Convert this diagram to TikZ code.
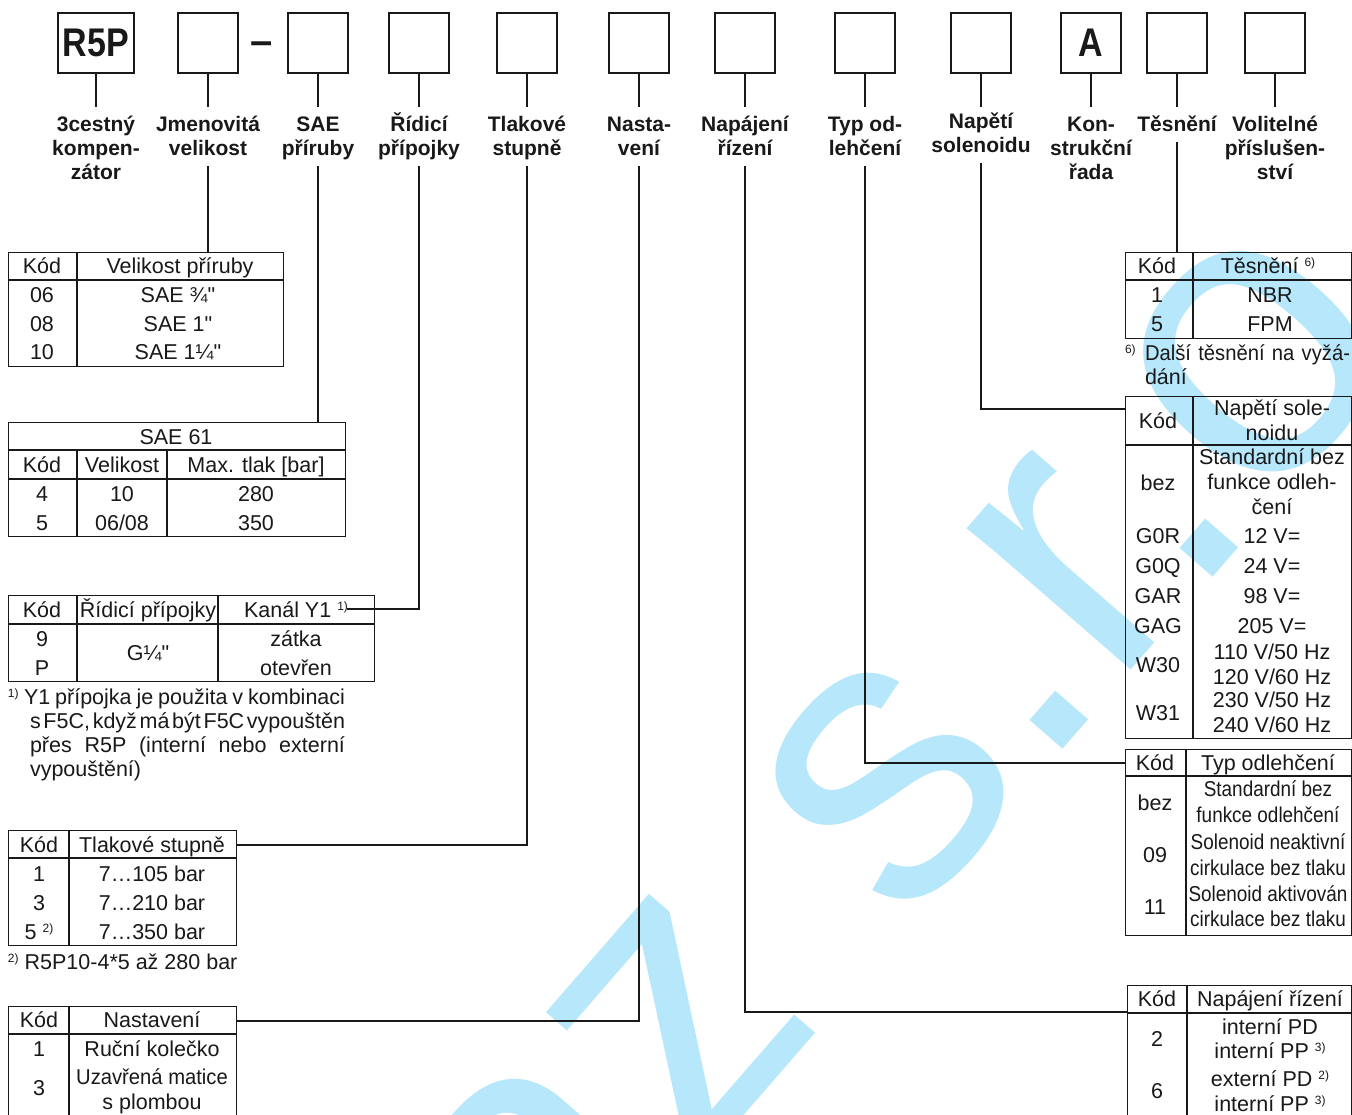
\documentclass[tikz,border=0pt]{standalone}
\usepackage{fontspec}
\setmainfont{Liberation Sans}[Ligatures=TeXOff]
\newfontfamily\condf{Liberation Sans}[FakeStretch=0.88]
\newfontfamily\condg{Liberation Sans}[FakeStretch=0.94]
\newfontfamily\condh{Liberation Sans}[FakeStretch=0.85]
\definecolor{wmark}{RGB}{182,231,251}
\definecolor{ink}{RGB}{25,25,25}
\newcounter{tc}
\newcommand\putt[4][]{\stepcounter{tc}\node[tx,#1] (tx\arabic{tc}) at (#2,#3) {#4};}
\newcommand\sups[1]{\raisebox{6.5pt}{\fontsize{12}{12}\selectfont #1}}
\newcommand\dq{"}
\begin{document}
\begin{tikzpicture}[x=1pt,y=-1pt,
 tx/.style={anchor=base,inner sep=0pt,outer sep=0pt,text=ink,font=\fontsize{21.5}{25}\selectfont},
 lb/.style={tx,font=\bfseries\fontsize{21}{24}\selectfont},
 cf/.style={font=\condf\fontsize{21.5}{25}\selectfont},
 tbl/.style={draw=ink,line width=1.4pt,inner sep=0pt,anchor=north west},
 gl/.style={draw=ink,line width=1.4pt},
 cn/.style={draw=ink,line width=1.2pt},
 cbox/.style={draw=ink,line width=1.4pt,inner sep=0pt,minimum width=60pt,minimum height=60pt,text=ink,font=\condh\bfseries\fontsize{40}{40}\selectfont},
]
\useasboundingbox (0,0) rectangle (1352,1114);
\fill[white] (0,0) rectangle (1352,1114);
\clip (0,0) rectangle (1352,1114);
% watermark
\node[rotate=49,anchor=base west,inner sep=0pt,text=wmark,font=\fontsize{410}{410}\selectfont] (wm) at (545,1345) {az s.r.o.};

% code boxes
\node[cbox,minimum width=76pt] (b1) at (96,43) {R5P};
\node[cbox] (b2) at (208,43) {};
\node[tx,font=\bfseries\fontsize{40}{40}\selectfont] (dash) at (262,54) {–};
\node[cbox] (b3) at (318,43) {};
\node[cbox] (b4) at (419,43) {};
\node[cbox] (b5) at (527,43) {};
\node[cbox] (b6) at (639,43) {};
\node[cbox] (b7) at (745,43) {};
\node[cbox] (b8) at (865,43) {};
\node[cbox] (b9) at (981,43) {};
\node[cbox] (b10) at (1091,43) {A};
\node[cbox] (b11) at (1177,43) {};
\node[cbox] (b12) at (1275,43) {};
\foreach \b in {b1,b2,b3,b4,b5,b6,b7,b8,b9,b10,b11,b12}{\draw[cn] (\b.south) -- ++(0,33);}

% labels
\putt[lb]{96}{131}{3cestný}\putt[lb]{96}{155}{kompen-}\putt[lb]{96}{179}{zátor}
\putt[lb]{208}{131}{Jmenovitá}\putt[lb]{208}{155}{velikost}
\putt[lb]{318}{131}{SAE}\putt[lb]{318}{155}{příruby}
\putt[lb]{419}{131}{Řídicí}\putt[lb]{419}{155}{přípojky}
\putt[lb]{527}{131}{Tlakové}\putt[lb]{527}{155}{stupně}
\putt[lb]{639}{131}{Nasta-}\putt[lb]{639}{155}{vení}
\putt[lb]{745}{131}{Napájení}\putt[lb]{745}{155}{řízení}
\putt[lb]{865}{131}{Typ od-}\putt[lb]{865}{155}{lehčení}
\putt[lb]{981}{128}{Napětí}\putt[lb]{981}{152}{solenoidu}
\putt[lb]{1091}{131}{Kon-}\putt[lb]{1091}{155}{strukční}\putt[lb]{1091}{179}{řada}
\putt[lb]{1177}{131}{Těsnění}
\putt[lb]{1275}{131}{Volitelné}\putt[lb]{1275}{155}{příslušen-}\putt[lb]{1275}{179}{ství}

% ---------- T1 Velikost příruby
\node[tbl,minimum width=275pt,minimum height=114pt] (T1) at (8,252) {};
\draw[gl] (8,280) -- (283,280) (77,252) -- (77,366);
\putt{42}{273}{Kód}\putt{180}{273}{Velikost příruby}
\putt{42}{302}{06}\putt{178}{302}{SAE ¾\dq}
\putt{42}{331}{08}\putt{178}{331}{SAE 1\dq}
\putt{42}{359}{10}\putt{178}{359}{SAE 1¼\dq}

% ---------- T2 SAE 61
\node[tbl,minimum width=337pt,minimum height=114pt] (T2) at (8,422) {};
\draw[gl] (8,450) -- (345,450) (8,479) -- (345,479) (77,450) -- (77,536) (167,450) -- (167,536);
\putt{176}{444}{SAE 61}
\putt{42}{472}{Kód}\putt{122}{472}{Velikost}\putt{256}{472}{Max. tlak [bar]}
\putt{42}{501}{4}\putt{122}{501}{10}\putt{256}{501}{280}
\putt{42}{530}{5}\putt{122}{530}{06/08}\putt{256}{530}{350}

% ---------- T3 Řídicí přípojky
\node[tbl,minimum width=366pt,minimum height=86pt] (T3) at (8,595) {};
\draw[gl] (8,624) -- (374,624) (77,595) -- (77,681) (218,595) -- (218,681);
\putt{42}{617}{Kód}\putt{148}{617}{Řídicí přípojky}\putt{296}{617}{Kanál Y1 \sups{1)}}
\putt{42}{646}{9}\putt{42}{675}{P}\putt{148}{660}{G¼\dq}
\putt{296}{646}{zátka}\putt{296}{675}{otevřen}
\putt[anchor=base west]{8}{704}{\sups{1)}}
\putt[anchor=base west]{24}{704}{\hbox to 321pt{\spaceskip=2.5pt plus 30pt\relax Y1 přípojka je použita v kombinaci}}
\putt[anchor=base west]{30}{728}{\hbox to 315pt{\spaceskip=2.2pt plus 30pt\relax s F5C, když má být F5C vypouštěn}}
\putt[anchor=base west]{30}{752}{\hbox to 315pt{\spaceskip=3pt plus 30pt\relax přes R5P (interní nebo externí}}
\putt[anchor=base west]{30}{776}{vypouštění)}

% ---------- T4 Tlakové stupně
\node[tbl,minimum width=228pt,minimum height=115pt] (T4) at (8,830) {};
\draw[gl] (8,858) -- (236,858) (69,830) -- (69,945);
\putt{39}{852}{Kód}\putt{152}{852}{Tlakové stupně}
\putt{39}{881}{1}\putt{152}{881}{7…105 bar}
\putt{39}{910}{3}\putt{152}{910}{7…210 bar}
\putt{39}{939}{5 \sups{2)}}\putt{152}{939}{7…350 bar}
\putt[anchor=base west]{8}{969}{\sups{2)}\hspace{6pt}R5P10-4*5 až 280 bar}

% ---------- T5 Nastavení
\node[tbl,minimum width=228pt,minimum height=116pt] (T5) at (8,1006) {};
\draw[gl] (8,1034) -- (236,1034) (69,1006) -- (69,1122);
\putt{39}{1027}{Kód}\putt{152}{1027}{Nastavení}
\putt{39}{1056}{1}\putt{152}{1056}{Ruční kolečko}
\putt{39}{1095}{3}\putt[font=\condg\fontsize{21.5}{25}\selectfont]{152}{1084}{Uzavřená matice}\putt{152}{1109}{s plombou}

% ---------- T6 Těsnění
\node[tbl,minimum width=226pt,minimum height=86pt] (T6) at (1125,252) {};
\draw[gl] (1125,280) -- (1351,280) (1193,252) -- (1193,338);
\putt{1157}{273}{Kód}\putt{1268}{273}{Těsnění \sups{6)}}
\putt{1157}{302}{1}\putt{1270}{302}{NBR}
\putt{1157}{331}{5}\putt{1270}{331}{FPM}
\putt[anchor=base west]{1125}{360}{\sups{6)}}
\putt[anchor=base west,font=\condg\fontsize{21.5}{25}\selectfont]{1145}{360}{\hbox to 205pt{\spaceskip=3pt plus 30pt\relax Další těsnění na vyžá-}}
\putt[anchor=base west]{1145}{384}{dání}

% ---------- T7 Napětí solenoidu
\node[tbl,minimum width=226pt,minimum height=342pt] (T7) at (1125,396) {};
\draw[gl] (1125,445) -- (1351,445) (1193,396) -- (1193,738);
\putt{1158}{428}{Kód}\putt{1272}{415}{Napětí sole-}\putt{1272}{440}{noidu}
\putt{1158}{490}{bez}\putt{1272}{464}{Standardní bez}\putt{1272}{489}{funkce odleh-}\putt{1272}{514}{čení}
\putt{1158}{543}{G0R}\putt{1272}{543}{12 V=}
\putt{1158}{573}{G0Q}\putt{1272}{573}{24 V=}
\putt{1158}{603}{GAR}\putt{1272}{603}{98 V=}
\putt{1158}{633}{GAG}\putt{1272}{633}{205 V=}
\putt{1158}{672}{W30}\putt{1272}{659}{110 V/50 Hz}\putt{1272}{684}{120 V/60 Hz}
\putt{1158}{720}{W31}\putt{1272}{707}{230 V/50 Hz}\putt{1272}{732}{240 V/60 Hz}

% ---------- T8 Typ odlehčení
\node[tbl,minimum width=226pt,minimum height=186pt] (T8) at (1125,749) {};
\draw[gl] (1125,776) -- (1351,776) (1186,749) -- (1186,935);
\putt{1155}{770}{Kód}\putt{1268}{770}{Typ odlehčení}
\putt{1155}{810}{bez}\putt[cf]{1268}{796}{Standardní bez}\putt[cf]{1268}{822}{funkce odlehčení}
\putt{1155}{862}{09}\putt[cf]{1268}{849}{Solenoid neaktivní}\putt[cf]{1268}{875}{cirkulace bez tlaku}
\putt{1155}{914}{11}\putt[cf]{1268}{901}{Solenoid aktivován}\putt[cf]{1268}{926}{cirkulace bez tlaku}

% ---------- T9 Napájení řízení
\node[tbl,minimum width=224pt,minimum height=137pt] (T9) at (1127,985) {};
\draw[gl] (1127,1013) -- (1351,1013) (1187,985) -- (1187,1122);
\putt{1157}{1006}{Kód}\putt{1270}{1006}{Napájení řízení}
\putt{1157}{1046}{2}\putt{1270}{1034}{interní PD}\putt{1270}{1058}{interní PP \sups{3)}}
\putt{1157}{1098}{6}\putt{1270}{1086}{externí PD \sups{2)}}\putt{1270}{1111}{interní PP \sups{3)}}

% ---------- connectors
\coordinate (c2) at (208,166); \draw[cn] (c2) -- (c2 |- T1.north);
\coordinate (c3) at (318,166); \draw[cn] (c3) -- (c3 |- T2.north);
\coordinate (c4) at (419,166); \coordinate (e4) at (347,609); \draw[cn] (c4) |- (e4);
\coordinate (c5) at (527,166); \coordinate (e5) at (236,845); \draw[cn] (c5) |- (e5);
\coordinate (c6) at (639,166); \coordinate (e6) at (236,1021); \draw[cn] (c6) |- (e6);
\coordinate (c7) at (745,166); \coordinate (e7) at (1127,1012); \draw[cn] (c7) |- (e7);
\coordinate (c8) at (865,166); \coordinate (e8) at (1125,763); \draw[cn] (c8) |- (e8);
\coordinate (c9) at (981,163); \coordinate (e9) at (1125,409); \draw[cn] (c9) |- (e9);
\coordinate (c11) at (1177,142); \draw[cn] (c11) -- (c11 |- T6.north);
\end{tikzpicture}
\end{document}
